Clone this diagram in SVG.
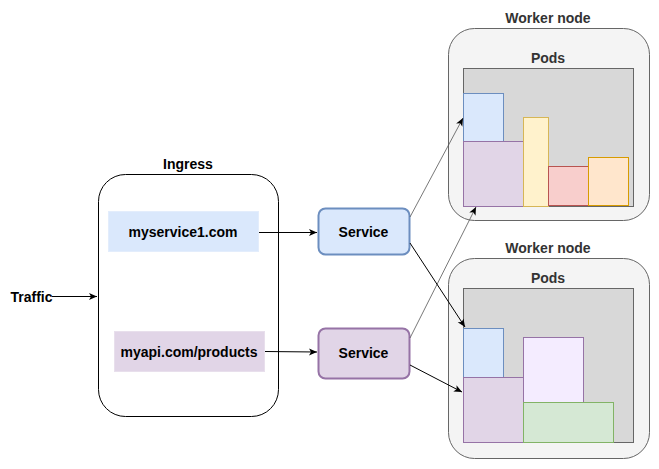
<svg xmlns="http://www.w3.org/2000/svg" width="659" height="469" viewBox="0 0 659 469">
<defs>
<marker id="ah" markerWidth="10" markerHeight="10" refX="9" refY="5" orient="auto" markerUnits="userSpaceOnUse">
<path d="M1,1.5 L9,5 L1,8.5 L3,5 Z" fill="#000"/>
</marker>
<style>
text{font-family:"Liberation Sans",Arial,sans-serif;font-weight:bold;font-size:14px;text-anchor:middle}
.wn{fill:#f4f4f4;stroke:#666;stroke-width:1}
.pods{fill:#d8d8d8;stroke:#666;stroke-width:1}
.lbl{fill:#333}
.blue{fill:#dae8fc;stroke:#6c8ebf}
.purple{fill:#e1d5e7;stroke:#9673a6}
.yellow{fill:#fff2cc;stroke:#d6b656}
.red{fill:#f8cecc;stroke:#b85450}
.orange{fill:#ffe6cc;stroke:#d79b00}
.green{fill:#d5e8d4;stroke:#82b366}
.lpurple{fill:#f4ecff;stroke:#9673a6}
.conn{fill:none;stroke:#000;stroke-width:1;marker-end:url(#ah)}
.thin{stroke:#555;stroke-width:0.8}
</style>
</defs>
<rect width="659" height="469" fill="#fff"/>

<g id="worker1">
<text x="548" y="23" class="lbl">Worker node</text>
<rect class="wn" x="448.5" y="28.5" width="201" height="192" rx="26"/>
<text x="548" y="63" class="lbl">Pods</text>
<rect class="pods" x="463.5" y="68.5" width="170" height="138"/>
<rect class="blue" x="463.5" y="93.5" width="40" height="48"/>
<rect class="purple" x="463.5" y="141.5" width="60" height="65"/>
<rect class="yellow" x="523.5" y="117.5" width="25" height="89"/>
<rect class="red" x="548.5" y="166.5" width="40" height="39"/>
<rect class="orange" x="588.5" y="157.5" width="40" height="48"/>
</g>

<g id="worker2">
<text x="548" y="253" class="lbl">Worker node</text>
<rect class="wn" x="448.5" y="258.5" width="201" height="200" rx="26"/>
<text x="548" y="283" class="lbl">Pods</text>
<rect class="pods" x="463.5" y="288.5" width="170" height="154"/>
<rect class="blue" x="463.5" y="328.5" width="40" height="49"/>
<rect class="purple" x="463.5" y="377.5" width="60" height="65"/>
<rect class="lpurple" x="523.5" y="337.5" width="60" height="65"/>
<rect class="green" x="523.5" y="402.5" width="90" height="40"/>
</g>

<g id="ingress">
<text x="188" y="169" fill="#000">Ingress</text>
<rect x="98.5" y="174.5" width="180" height="242" rx="27" fill="#fff" stroke="#000" stroke-width="1"/>
</g>

<g id="rule1">
<rect x="108.5" y="211.5" width="150" height="40" fill="#dae8fc" stroke="#e3edfc"/>
<text x="183" y="237">myservice1.com</text>
</g>

<g id="rule2">
<rect x="114.5" y="331.5" width="150" height="40" fill="#e1d5e7" stroke="#e8dfec"/>
<text x="189" y="357">myapi.com/products</text>
</g>

<g id="service1">
<rect class="blue" x="318.5" y="208.5" width="91" height="46" rx="7" stroke-width="2"/>
<text x="363.5" y="237">Service</text>
</g>

<g id="service2">
<rect class="purple" x="318.5" y="328.5" width="91" height="50" rx="7" stroke-width="2"/>
<text x="363.5" y="358">Service</text>
</g>

<g id="traffic">
<text x="31.5" y="302">Traffic</text>
</g>

<g id="connectors">
<path class="conn" d="M52,296.5 L97,296.5"/>
<path class="conn" d="M259,232.5 L317,232.5"/>
<path class="conn" d="M265,351.5 L317,352"/>
<path class="conn thin" d="M410,217 L463,118"/>
<path class="conn thin" d="M410,338 L476,207"/>
<path class="conn" d="M410,243 L465,327"/>
<path class="conn" d="M410,365 L462,392"/>
</g>
</svg>
